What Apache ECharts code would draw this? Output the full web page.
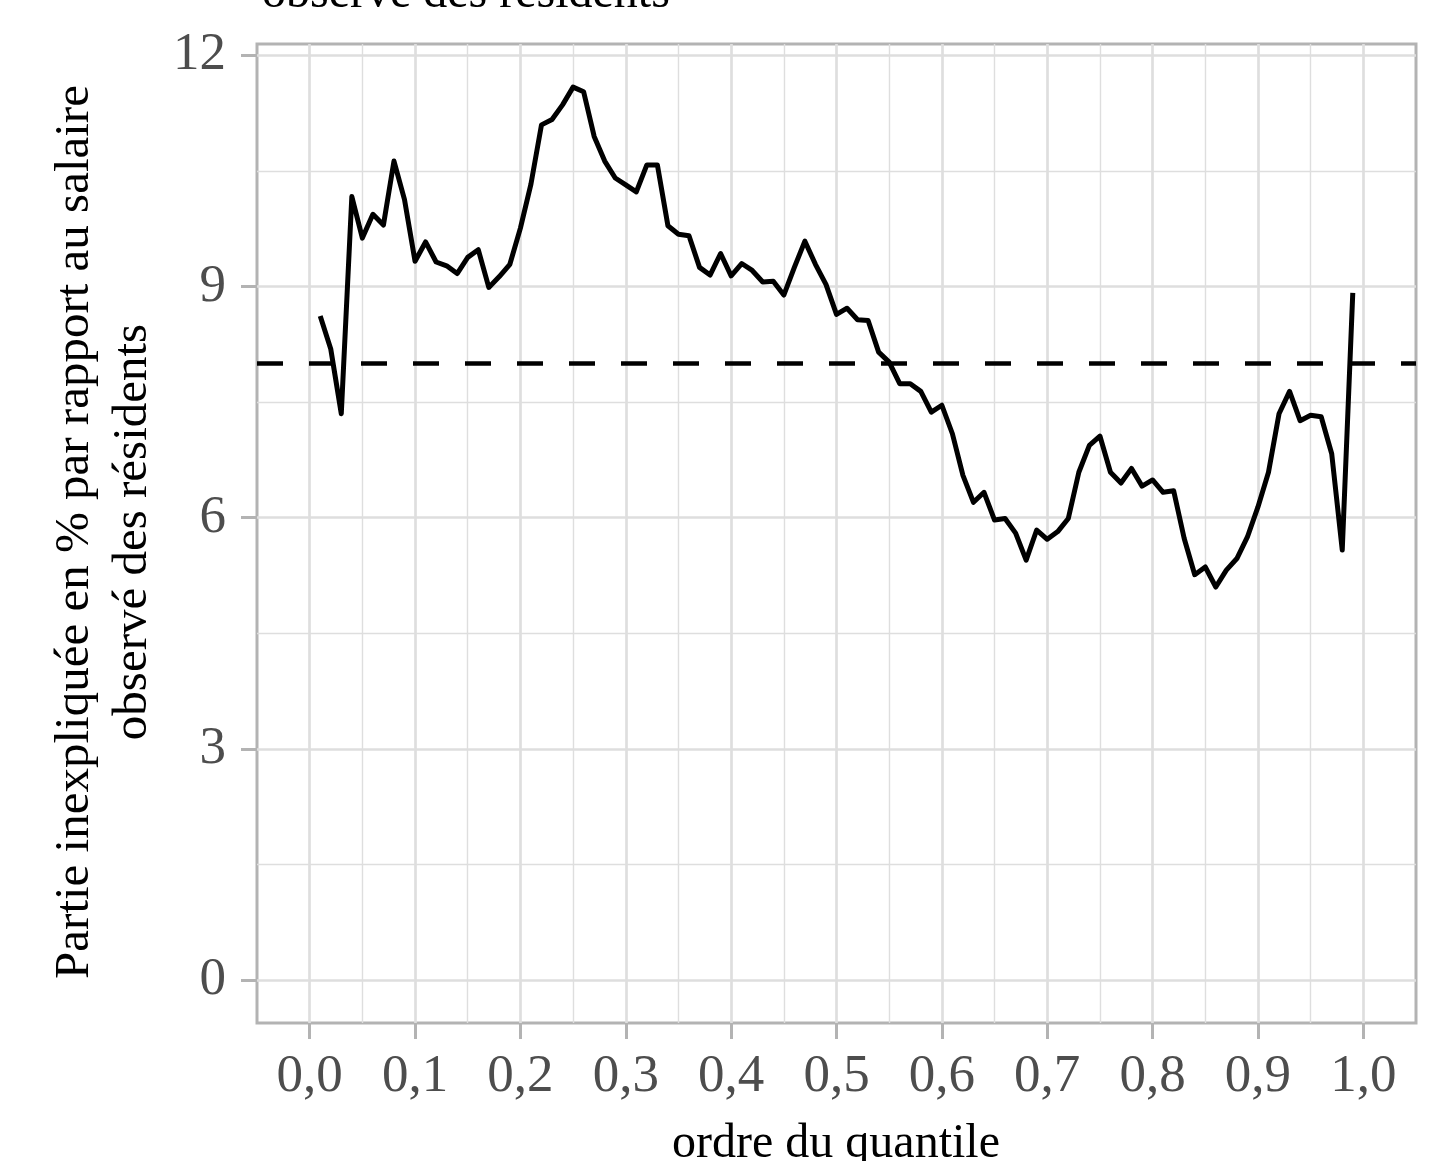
<!DOCTYPE html>
<html>
<head>
<meta charset="utf-8">
<script src="https://cdn.jsdelivr.net/npm/echarts@6/dist/echarts.min.js"></script>
<style>
  html, body { margin: 0; padding: 0; background: #fff; }
  #chart { width: 1445px; height: 1161px; }
</style>
</head>
<body>
<div id="chart"></div>
<script>
// ordre du quantile
const quantiles = [
  0.01, 0.02, 0.03, 0.04, 0.05, 0.06, 0.07, 0.08, 0.09, 0.10,
  0.11, 0.12, 0.13, 0.14, 0.15, 0.16, 0.17, 0.18, 0.19, 0.20,
  0.21, 0.22, 0.23, 0.24, 0.25, 0.26, 0.27, 0.28, 0.29, 0.30,
  0.31, 0.32, 0.33, 0.34, 0.35, 0.36, 0.37, 0.38, 0.39, 0.40,
  0.41, 0.42, 0.43, 0.44, 0.45, 0.46, 0.47, 0.48, 0.49, 0.50,
  0.51, 0.52, 0.53, 0.54, 0.55, 0.56, 0.57, 0.58, 0.59, 0.60,
  0.61, 0.62, 0.63, 0.64, 0.65, 0.66, 0.67, 0.68, 0.69, 0.70,
  0.71, 0.72, 0.73, 0.74, 0.75, 0.76, 0.77, 0.78, 0.79, 0.80,
  0.81, 0.82, 0.83, 0.84, 0.85, 0.86, 0.87, 0.88, 0.89, 0.90,
  0.91, 0.92, 0.93, 0.94, 0.95, 0.96, 0.97, 0.98, 0.99
];

// partie inexpliquée (%)
const partieInexpliquee = [
  8.62, 8.19, 7.35, 10.17, 9.63, 9.94, 9.80, 10.63, 10.13, 9.33,
  9.58, 9.32, 9.27, 9.17, 9.38, 9.48, 8.99, 9.13, 9.29, 9.76,
  10.33, 11.10, 11.17, 11.36, 11.59, 11.53, 10.95, 10.63, 10.41, 10.32,
  10.23, 10.58, 10.58, 9.79, 9.68, 9.66, 9.25, 9.15, 9.43, 9.14,
  9.30, 9.21, 9.06, 9.07, 8.89, 9.25, 9.59, 9.29, 9.03, 8.64,
  8.72, 8.57, 8.56, 8.15, 8.02, 7.74, 7.74, 7.64, 7.37, 7.46,
  7.09, 6.55, 6.20, 6.33, 5.97, 5.99, 5.80, 5.45, 5.84, 5.72,
  5.82, 5.99, 6.59, 6.94, 7.06, 6.59, 6.45, 6.64, 6.41, 6.49,
  6.33, 6.35, 5.73, 5.26, 5.36, 5.10, 5.32, 5.47, 5.75, 6.14,
  6.59, 7.35, 7.64, 7.26, 7.33, 7.31, 6.83, 5.58, 8.92
];

const refLevel = 8;

const xMajorTicks = [0, 0.1, 0.2, 0.3, 0.4, 0.5, 0.6, 0.7, 0.8, 0.9, 1.0];
const xTickLabels = ['0,0', '0,1', '0,2', '0,3', '0,4', '0,5', '0,6', '0,7', '0,8', '0,9', '1,0'];
const xMinorTicks = [0.05, 0.15, 0.25, 0.35, 0.45, 0.55, 0.65, 0.75, 0.85, 0.95];
const yMajorTicks = [0, 3, 6, 9, 12];
const yTickLabels = ['0', '3', '6', '9', '12'];
const yMinorTicks = [1.5, 4.5, 7.5, 10.5];

const serif = '"Liberation Serif", "DejaVu Serif", serif';
const gridColor = '#dedede';
const borderColor = '#b3b3b3';

let myChart = echarts.init(document.getElementById('chart'));

let option = {
  animation: false,
  grid: {
    left: 257, right: 29, top: 44, bottom: 138,
    show: true,
    borderColor: borderColor,
    borderWidth: 3,
    backgroundColor: '#fff'
  },
  xAxis: [
    {
      type: 'value',
      min: -0.05,
      max: 1.05,
      position: 'bottom',
      axisLine: { show: false, onZero: false },
      axisTick: {
        show: true, length: 16, inside: false,
        customValues: xMajorTicks,
        lineStyle: { color: borderColor, width: 3 }
      },
      axisLabel: {
        customValues: xMajorTicks,
        formatter: v => xTickLabels[Math.round(v * 10)],
        fontFamily: serif, fontSize: 53, color: '#4d4d4d',
        margin: 28
      },
      splitLine: { show: true, lineStyle: { color: gridColor, width: 2.7 } }
    },
    {
      // lignes mineures
      type: 'value',
      min: -0.05,
      max: 1.05,
      position: 'bottom',
      axisLine: { show: false, onZero: false },
      axisTick: { show: false, customValues: xMinorTicks },
      axisLabel: { show: false },
      splitLine: { show: true, lineStyle: { color: gridColor, width: 1.4 } }
    }
  ],
  yAxis: [
    {
      type: 'value',
      min: -0.56,
      max: 12.15,
      position: 'left',
      axisLine: { show: false, onZero: false },
      axisTick: {
        show: true, length: 16, inside: false,
        customValues: yMajorTicks,
        lineStyle: { color: borderColor, width: 3 }
      },
      axisLabel: {
        customValues: yMajorTicks,
        formatter: v => yTickLabels[yMajorTicks.indexOf(Math.round(v))],
        fontFamily: serif, fontSize: 53, color: '#4d4d4d',
        margin: 31
      },
      splitLine: { show: true, lineStyle: { color: gridColor, width: 2.7 } }
    },
    {
      // lignes mineures
      type: 'value',
      min: -0.56,
      max: 12.15,
      position: 'left',
      axisLine: { show: false, onZero: false },
      axisTick: { show: false, customValues: yMinorTicks },
      axisLabel: { show: false },
      splitLine: { show: true, lineStyle: { color: gridColor, width: 1.4 } }
    }
  ],
  graphic: [
    {
      type: 'text',
      x: 262, y: 18,
      style: {
        text: 'observé des résidents',
        font: '48px ' + serif,
        fill: '#000',
        align: 'left',
        verticalAlign: 'bottom'
      }
    },
    {
      type: 'text',
      x: 836, y: 1168,
      style: {
        text: 'ordre du quantile',
        font: '48px ' + serif,
        fill: '#000',
        align: 'center',
        verticalAlign: 'bottom'
      }
    },
    {
      type: 'text',
      x: 104, y: 532,
      rotation: Math.PI / 2,
      style: {
        text: 'Partie inexpliquée en % par rapport au salaire\nobservé des résidents',
        font: '49px ' + serif,
        lineHeight: 58,
        fill: '#000',
        align: 'center',
        verticalAlign: 'middle'
      }
    }
  ],
  series: [
    {
      type: 'line',
      xAxisIndex: 0,
      yAxisIndex: 0,
      data: quantiles.map((q, i) => [q, partieInexpliquee[i]]),
      showSymbol: false,
      symbol: 'none',
      lineStyle: { color: '#000', width: 5, join: 'round' },
      z: 3,
      markLine: {
        silent: true,
        symbol: ['none', 'none'],
        label: { show: false },
        lineStyle: { color: '#000', width: 4.5, type: [26, 26] },
        data: [{ yAxis: refLevel }]
      }
    }
  ]
};

myChart.setOption(option);
</script>
</body>
</html>
